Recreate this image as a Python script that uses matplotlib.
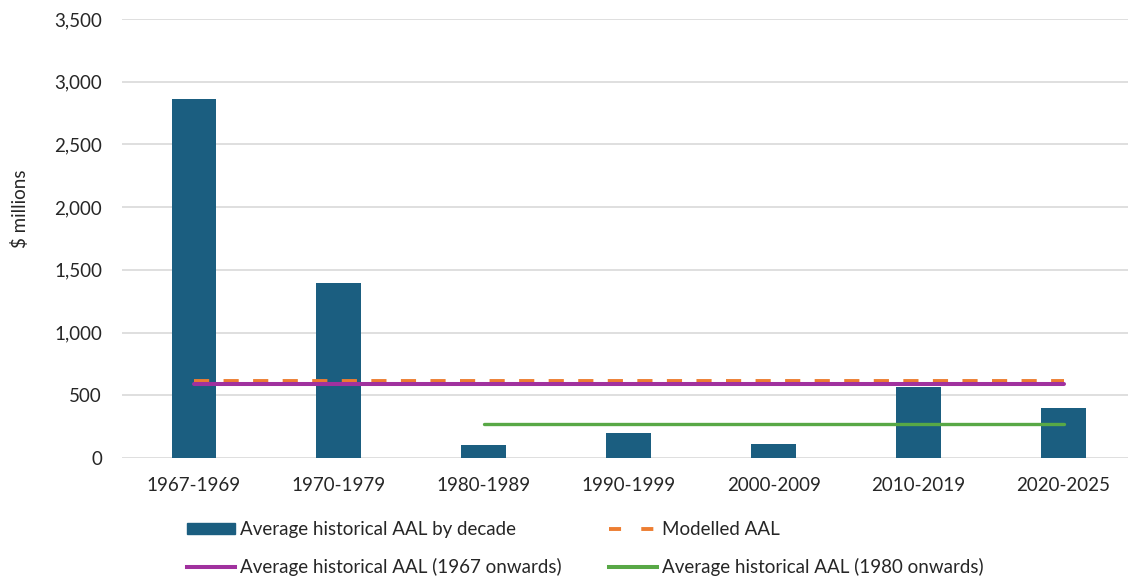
import matplotlib
matplotlib.use("Agg")
import matplotlib.pyplot as plt
from matplotlib.patches import Patch
from matplotlib.lines import Line2D
import numpy as np

categories = ["1967-1969", "1970-1979", "1980-1989", "1990-1999", "2000-2009", "2010-2019", "2020-2025"]
decade_aal = [2860, 1395, 105, 200, 112, 568, 401]
modelled_aal = 615
avg_1967 = 590
avg_1980 = 270
avg_1980_start = "1980-1989"
y_ticks = [0, 500, 1000, 1500, 2000, 2500, 3000, 3500]

plt.rcParams['font.family'] = ['Lato', 'DejaVu Sans']

W, H = 1128, 576
FS = 13.5
fig = plt.figure(figsize=(W / 100, H / 100), dpi=100)
ax = fig.add_axes([121.5 / W, (H - 458) / H, (1136 - 121.5) / W, (458 - 19) / H])

x = np.arange(len(categories))
bar_color = "#1b5e80"
ax.bar(x, decade_aal, width=0.31, color=bar_color, zorder=2)

ax.plot([x[0], x[-1]], [modelled_aal, modelled_aal], color="#ed7d31", lw=2.8,
        linestyle=(0, (3.9, 3.7)), dash_capstyle="butt", zorder=3)
ax.plot([x[0], x[-1]], [avg_1967, avg_1967], color="#a0319e", lw=2.9,
        solid_capstyle="round", zorder=4)
i0 = categories.index(avg_1980_start)
ax.plot([x[i0], x[-1]], [avg_1980, avg_1980], color="#58a846", lw=2.4,
        solid_capstyle="round", zorder=4)

ax.set_xlim(-0.5, len(categories) - 0.5)
ax.set_ylim(0, 3500)
ax.set_yticks(y_ticks)
ax.set_yticklabels([f"{v:,}" for v in y_ticks])
ax.set_xticks(x)
ax.set_xticklabels(categories)
ax.grid(axis="y", color="#d9d9d9", lw=1.2, zorder=0)
ax.set_axisbelow(True)
for s in ax.spines.values():
    s.set_visible(False)
ax.tick_params(axis="both", length=0, labelsize=FS, colors="#262626")
ax.tick_params(axis="y", pad=14)
ax.tick_params(axis="x", pad=14)
ax.set_ylabel("$ millions", fontsize=FS, color="#262626")
ax.yaxis.set_label_coords((29 - 121.5) / (1136 - 121.5), (458 - 209) / 439)

handles = [
    Patch(facecolor=bar_color, edgecolor=bar_color),
    Line2D([0], [0], color="#a0319e", lw=2.9),
    Line2D([0], [0], color="#ed7d31", lw=2.8, linestyle=(0, (3.1, 5.2)),
           dash_capstyle="butt"),
    Line2D([0], [0], color="#58a846", lw=2.9),
]
labels = [
    "Average historical AAL by decade",
    "Average historical AAL (1967 onwards)",
    "Modelled AAL",
    "Average historical AAL (1980 onwards)",
]
fig.legend(handles, labels, ncol=2, loc="upper left",
           bbox_to_anchor=(187 / W, 1 - 521 / H), frameon=False,
           fontsize=FS, handlelength=2.56, handleheight=0.53, handletextpad=0.27,
           columnspacing=2.5, labelspacing=1.09, borderpad=0, borderaxespad=0,
           labelcolor="#262626")

fig.savefig("out.png", dpi=100)
